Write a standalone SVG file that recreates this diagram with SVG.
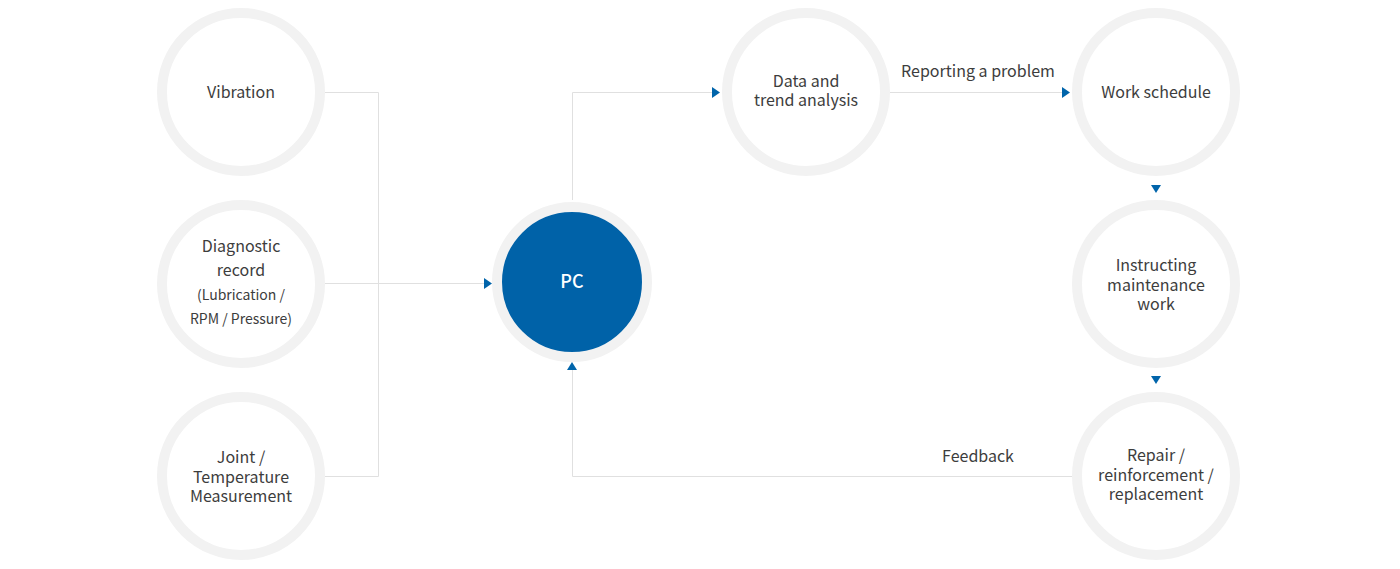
<svg xmlns="http://www.w3.org/2000/svg" width="1400" height="569" viewBox="0 0 1400 569">
<style>
.ring{fill:#fff;stroke:#f2f2f2;stroke-width:10}
.t{font-family:"Noto Sans CJK KR","Noto Sans",sans-serif;font-size:16px;fill:#3d3d3d;text-anchor:middle}
.s{font-size:14px}
.ln{fill:none;stroke:#e0e0e0;stroke-width:1}
.ar{fill:#0064aa}
</style>
<rect width="1400" height="569" fill="#fff"/>
<g id="connectors">
<path class="ln" d="M325 92.5H378.5V476.5H325"/>
<path class="ln" d="M325 283.5H485"/>
<polygon class="ar" points="484,278 492,283.5 484,289"/>
<path class="ln" d="M572.5 200V92.5H713"/>
<polygon class="ar" points="712,87 720,92.5 712,98"/>
<path class="ln" d="M889 92.5H1063"/>
<polygon class="ar" points="1062,87 1070,92.5 1062,98"/>
<polygon class="ar" points="1151,185 1161,185 1156,193"/>
<polygon class="ar" points="1151,376 1161,376 1156,384"/>
<path class="ln" d="M1072 476.5H572.5V369"/>
<polygon class="ar" points="567,370 577,370 572,362"/>
<text class="t" x="978" y="77">Reporting a problem</text>
<text class="t" x="978" y="462">Feedback</text>
</g>
<g id="vibration">
<circle class="ring" cx="241" cy="92" r="79"/>
<text class="t" x="241" y="98">Vibration</text>
</g>
<g id="diagnostic">
<circle class="ring" cx="241" cy="284" r="79"/>
<text class="t" x="241" y="252">Diagnostic<tspan x="241" dy="24">record</tspan><tspan class="s" x="241" dy="24">(Lubrication /</tspan><tspan class="s" x="241" dy="24">RPM / Pressure)</tspan></text>
</g>
<g id="joint">
<circle class="ring" cx="241" cy="476" r="79"/>
<text class="t" x="241" y="463">Joint /<tspan x="241" dy="19.5">Temperature</tspan><tspan x="241" dy="19.5">Measurement</tspan></text>
</g>
<g id="pc">
<circle cx="572" cy="282" r="75" fill="#0062a8" stroke="#f2f2f2" stroke-width="10"/>
<text class="t" x="572" y="288" style="fill:#fff;font-size:18px;font-weight:500">PC</text>
</g>
<g id="data">
<circle class="ring" cx="806" cy="92" r="79"/>
<text class="t" x="806" y="87">Data and<tspan x="806" dy="19">trend analysis</tspan></text>
</g>
<g id="schedule">
<circle class="ring" cx="1156" cy="92" r="79"/>
<text class="t" x="1156" y="98">Work schedule</text>
</g>
<g id="instructing">
<circle class="ring" cx="1156" cy="284" r="79"/>
<text class="t" x="1156" y="271">Instructing<tspan x="1156" dy="19.5">maintenance</tspan><tspan x="1156" dy="19.5">work</tspan></text>
</g>
<g id="repair">
<circle class="ring" cx="1156" cy="476" r="79"/>
<text class="t" x="1156" y="461">Repair /<tspan x="1156" dy="19.5">reinforcement /</tspan><tspan x="1156" dy="19.5">replacement</tspan></text>
</g>
</svg>
